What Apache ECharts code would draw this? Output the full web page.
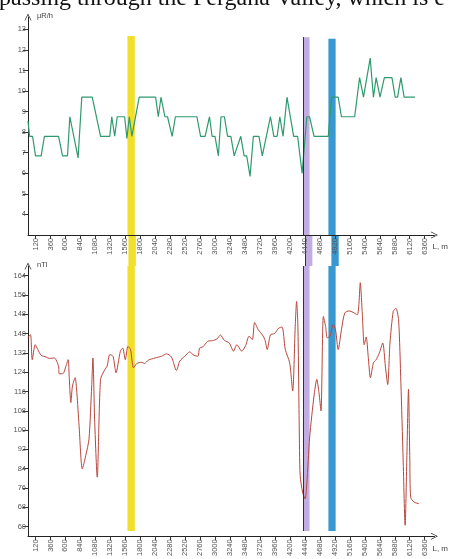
<!DOCTYPE html>
<html>
<head>
<meta charset="utf-8">
<script src="https://cdn.jsdelivr.net/npm/echarts@6/dist/echarts.min.js"></script>
<style>
html, body { margin: 0; padding: 0; background: #fff; }
#chart { width: 449px; height: 559px; }
</style>
</head>
<body>
<div id="chart"></div>
<script>
// distance along the route, m (tick labels of both x axes)
var distTicks = [120, 360, 600, 840, 1080, 1320, 1560, 1800, 2040, 2280, 2520, 2760, 3000, 3240,
    3480, 3720, 3960, 4200, 4440, 4680, 4920, 5160, 5400, 5640, 5880, 6120, 6360];
var doseTicks = [4, 5, 6, 7, 8, 9, 10, 11, 12, 13];
var fieldTicks = [60, 68, 76, 84, 92, 100, 108, 116, 124, 132, 140, 148, 156, 164];

// gamma dose rate, uR/h
var doseDist = [0, 25, 73, 121, 211, 263, 490, 554, 633, 671, 803, 862, 1030, 1163, 1311, 1343, 1390,
    1430, 1549, 1586, 1624, 1665, 1783, 2046, 2089, 2132, 2195, 2237, 2311, 2363, 2708, 2767, 2840,
    2910, 2951, 2998, 3052, 3094, 3148, 3200, 3252, 3306, 3411, 3465, 3506, 3560, 3613, 3703, 3756,
    3783, 3887, 3941, 3994, 4037, 4089, 4152, 4259, 4322, 4395, 4470, 4513, 4586, 4814, 4867, 4973,
    5025, 5237, 5316, 5379, 5486, 5538, 5581, 5644, 5713, 5835, 5887, 5925, 5978, 6030, 6205];
var doseVal = [8.55, 7.8, 7.8, 6.85, 6.85, 7.8, 7.8, 6.85, 6.85, 8.75, 6.75, 9.7, 9.7, 7.8, 7.8, 8.75, 7.8,
    8.75, 8.75, 7.7, 8.75, 7.8, 9.7, 9.7, 8.75, 9.7, 8.75, 8.75, 7.8, 8.75, 8.75, 7.8, 7.8,
    8.75, 7.8, 7.8, 6.85, 8.75, 8.75, 7.8, 7.8, 6.85, 7.8, 6.85, 6.85, 5.85, 7.8, 7.8, 6.85,
    6.85, 8.75, 7.8, 7.8, 8.75, 7.8, 9.7, 7.8, 7.8, 6.0, 8.75, 8.75, 7.8, 7.8, 9.7, 9.7,
    8.75, 8.75, 10.65, 9.7, 11.6, 9.7, 10.65, 9.7, 10.65, 10.65, 9.7, 9.7, 10.65, 9.7, 9.7];

// magnetic field, nTl
var fieldDist = [0, 14, 41, 68, 116, 157, 211, 290, 343, 422, 490, 502, 565, 608, 644, 660, 687, 713,
    756, 783, 819, 871, 925, 978, 1021, 1041, 1068, 1110, 1163, 1232, 1268, 1311, 1363, 1411, 1481,
    1517, 1560, 1602, 1644, 1692, 1744, 1824, 1867, 1930, 2037, 2141, 2221, 2300, 2379, 2433, 2513,
    2592, 2660, 2724, 2751, 2803, 2883, 2962, 3030, 3084, 3148, 3227, 3295, 3348, 3427, 3490, 3544,
    3597, 3633, 3692, 3756, 3798, 3835, 3887, 3951, 4021, 4073, 4125, 4195, 4243, 4284, 4306, 4327,
    4348, 4363, 4402, 4443, 4481, 4513, 4549, 4592, 4629, 4665, 4697, 4735, 4771, 4798, 4840, 4894,
    4930, 4973, 5025, 5078, 5148, 5211, 5279, 5306, 5327, 5359, 5390, 5422, 5454, 5490, 5538, 5581,
    5633, 5687, 5729, 5767, 5803, 5856, 5898, 5941, 5978, 6014, 6046, 6073, 6100, 6121, 6135, 6189, 6268];
var fieldVal = [138.2, 138.9, 139.5, 129.2, 135.4, 133.4, 131, 130.3, 129.7, 129.9, 126.5, 123.3, 123.5,
    126.5, 129.2, 122.4, 111.4, 118.3, 121.7, 115.5, 101.8, 83.9, 89.4, 96.3, 118.3, 129.9, 104.5, 80.5,
    121, 125.1, 126.5, 131.3, 130.6, 123.8, 132.7, 134, 129.2, 134.7, 133.4, 125.8, 127.6, 128.1, 127.6,
    129, 129.9, 130.6, 131.6, 130.3, 124.7, 128.6, 130.6, 132.4, 131, 130.6, 134, 134.5, 136.8, 137.1,
    137.8, 139.4, 137.2, 136.1, 132.7, 135.4, 132.7, 135.1, 138.9, 137.5, 144.6, 141.6, 139.5, 137.5,
    133.4, 139.5, 140, 142.3, 142.7, 133.4, 127.9, 116.2, 143, 153.3, 143, 101.8, 81.2, 74.3, 71.5, 82.5,
    96.3, 105.9, 115.5, 121, 115.5, 108, 147.1, 143, 138.2, 138.9, 143.7, 141.6, 133.4, 141.6, 148.5,
    149.4, 148.8, 147.8, 152.6, 161.1, 148.5, 135.4, 138.6, 130.6, 121.7, 127.9, 129.2, 132, 136.1,
    126.5, 118.9, 136.1, 149.2, 150.5, 145.7, 119.6, 88, 60.6, 88, 116.9, 88, 72.2, 70.2, 69.5];

// highlighted sections of the route, m
var bandFrom = [1594, 4408, 4816];
var bandTo = [1712, 4514, 4932];
var bandTopDose = [12.68, 12.62, 12.54];

var bandColor = ['#f2df2a', '#c2ade3', '#3799d0'];
var arrow = 'path://M0,10L5,0L10,10L9,10L5,2L1,10Z';

function pairs(xs, ys) {
    var out = [];
    for (var i = 0; i < xs.length; ++i) out.push([xs[i], ys[i]]);
    return out;
}

function bands(top, bottom) {
    var out = [];
    for (var i = 0; i < bandFrom.length; ++i) {
        out.push([
            { xAxis: bandFrom[i], yAxis: typeof top == 'number' ? top : top[i], itemStyle: { color: bandColor[i], opacity: 1 } },
            { xAxis: bandTo[i], yAxis: bottom }
        ]);
    }
    return out;
}

function edgeLine(top, bottom) {
    return {
        silent: true,
        symbol: 'none',
        label: { show: false },
        lineStyle: { color: '#3e2260', width: 1, type: 'solid' },
        data: [[{ xAxis: bandFrom[1], yAxis: top }, { xAxis: bandFrom[1], yAxis: bottom }]]
    };
}

var labelFont = { fontSize: 7.5, color: '#555', fontFamily: 'Liberation Sans' };

// x axes sit on their own layer so their labels stay readable over the marked sections
function xAxis(idx) {
    return {
        type: 'value', gridIndex: idx, min: 0, max: 6516, zlevel: 1,
        name: 'L, m', nameLocation: 'end', nameGap: -2,
        nameTextStyle: { fontSize: 8, color: '#444', fontFamily: 'Liberation Sans', align: 'left', verticalAlign: 'top', padding: [8, 0, 0, 0] },
        axisLine: { onZero: false, lineStyle: { color: '#222', width: 1 }, symbol: ['none', arrow], symbolSize: [7, 9] },
        axisTick: { customValues: distTicks, length: 4, lineStyle: { color: '#333' } },
        axisLabel: Object.assign({ customValues: distTicks, rotate: 90, margin: 3, formatter: function (v) { return String(v); } }, labelFont),
        splitLine: { show: false }
    };
}

function yAxis(idx, min, max, ticks, name) {
    return {
        type: 'value', gridIndex: idx, min: min, max: max,
        name: name, nameLocation: 'end', nameGap: 1,
        nameTextStyle: { fontSize: 7.5, color: '#444', fontFamily: 'Liberation Sans', align: 'left', verticalAlign: 'middle', padding: [0, 0, 0, 9] },
        axisLine: { onZero: false, lineStyle: { color: '#222', width: 1 }, symbol: ['none', arrow], symbolSize: [7, 9] },
        axisTick: { customValues: ticks, length: 5, lineStyle: { color: '#333' } },
        axisLabel: Object.assign({ customValues: ticks, margin: 2 }, labelFont),
        splitLine: { show: false }
    };
}

var chart = echarts.init(document.getElementById('chart'), null, { renderer: 'canvas' });
chart.setOption({
    backgroundColor: '#fff',
    animation: false,
    graphic: [{
        type: 'text', left: -1, top: -13,
        style: { text: 'passing through the Fergana Valley, which is e', font: '24px "Liberation Serif"', fill: '#111' }
    }],
    grid: [
        { left: 28, right: 10.5, top: 17, height: 218 },
        { left: 28, right: 10.5, top: 266, height: 271.3 },
        // strip between the two plots, where the marked sections carry on
        { left: 28, right: 10.5, top: 235, height: 31 }
    ],
    xAxis: [xAxis(0), xAxis(1), { type: 'value', gridIndex: 2, min: 0, max: 6516, show: false }],
    yAxis: [yAxis(0, 3, 13.6, doseTicks, '\u00b5R/h'), yAxis(1, 56, 168, fieldTicks, 'nTl'),
        { type: 'value', gridIndex: 2, min: 0, max: 1, show: false }],
    series: [{
        type: 'line', xAxisIndex: 0, yAxisIndex: 0,
        data: pairs(doseDist, doseVal),
        symbol: 'none',
        lineStyle: { color: '#2f9a6e', width: 1.2 },
        markArea: { silent: true, data: bands(bandTopDose, 3) },
        markLine: edgeLine(bandTopDose[1], 3)
    }, {
        type: 'line', xAxisIndex: 1, yAxisIndex: 1,
        data: pairs(fieldDist, fieldVal),
        symbol: 'none',
        smooth: 0.25,
        lineStyle: { color: '#b8463c', width: 1 },
        markArea: { silent: true, data: bands(168, 58.2) },
        markLine: edgeLine(168, 58.2)
    }, {
        type: 'line', xAxisIndex: 2, yAxisIndex: 2,
        data: [],
        symbol: 'none',
        markArea: { silent: true, data: bands(1, 0) },
        markLine: edgeLine(1, 0)
    }]
});
</script>
</body>
</html>
